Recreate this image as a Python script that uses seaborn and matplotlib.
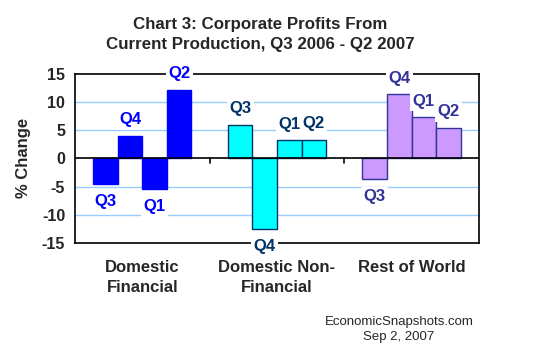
import numpy as np
import pandas as pd
import matplotlib
matplotlib.use("Agg")
import matplotlib.pyplot as plt
import seaborn as sns

# data
categories = ["Domestic\nFinancial", "Domestic Non-\nFinancial", "Rest of World"]
quarters = ["Q3", "Q4", "Q1", "Q2"]
dom_financial = [-4.5, 4.0, -5.4, 12.2]
dom_nonfinancial = [6.0, -12.5, 3.2, 3.3]
rest_of_world = [-3.6, 11.4, 7.3, 5.4]

face_colors = ["#0000FF", "#00FFFF", "#CC99FF"]
edge_colors = ["#0000FF", "#003366", "#333399"]
label_colors = ["#0000FF", "#003366", "#333399"]

df = pd.DataFrame({
    "category": np.repeat(categories, len(quarters)),
    "quarter": quarters * len(categories),
    "value": dom_financial + dom_nonfinancial + rest_of_world,
})

sns.set_style("white")
plt.rcParams["font.family"] = ["Liberation Sans", "DejaVu Sans"]

fig = plt.figure(figsize=(5.55, 3.6), dpi=100)
ax = fig.add_axes([0.135, 0.325, 0.728, 0.470])

sns.barplot(data=df, x="category", y="value", hue="quarter", order=categories,
            hue_order=quarters, width=0.73, gap=0, ax=ax, legend=False,
            errorbar=None, zorder=3)

# recolour each bar by its category and add the quarter labels
for qi, cont in enumerate(ax.containers):
    for ci, bar in enumerate(cont.patches):
        bar.set_facecolor(face_colors[ci])
        bar.set_edgecolor(edge_colors[ci])
        bar.set_linewidth(1.0)
        h = bar.get_height()
        xc = bar.get_x() + bar.get_width() / 2
        y = bar.get_y() + h
        off = 11.5 if h >= 0 else -13
        ax.annotate(quarters[qi], (xc, y), xytext=(0, off), textcoords="offset points",
                    ha="center", va="center", fontsize=12, fontweight="bold",
                    color=label_colors[ci], zorder=6, annotation_clip=False,
                    bbox=dict(boxstyle="square,pad=0.15", fc="white", ec="none"))

ax.set_ylim(-15, 15)
ax.set_xlim(-0.5, 2.5)
ax.set_yticks([-15, -10, -5, 0, 5, 10, 15])
ax.set_yticklabels(["-15", "-10", "-5", "0", "5", "10", "15"], fontsize=11.5,
                   fontweight="bold")
for g in [-10, -5, 5, 10]:
    ax.axhline(g, color="#99CCFF", lw=1, zorder=1)
ax.axhline(0, color="black", lw=1.2, zorder=4)
for b in [0.5, 1.5]:
    ax.plot([b, b], [0, -0.9], color="black", lw=1.2, zorder=4)

ax.tick_params(axis="y", direction="out", length=5, width=1.2, color="black", pad=2)
ax.tick_params(axis="x", length=0, pad=12)
ax.set_xticks(range(len(categories)))
ax.set_xticklabels(categories, fontsize=12, fontweight="bold")
for lbl in ax.get_xticklabels():
    lbl.set_linespacing(1.45)
for sp in ax.spines.values():
    sp.set_color("black")
    sp.set_linewidth(1.2)
    sp.set_zorder(5)

ax.set_xlabel("")
ax.set_ylabel("% Change", fontsize=12, fontweight="bold", labelpad=8)

fig.text(0.469, 0.904, "Chart 3: Corporate Profits From\nCurrent Production, Q3 2006 - Q2 2007",
         ha="center", va="center", fontsize=12.2, fontweight="bold", linespacing=1.45)
fig.text(0.719, 0.085, "EconomicSnapshots.com\nSep 2, 2007", ha="center", va="center",
         fontsize=9.5, linespacing=1.35)

fig.savefig("out.png", dpi=100)
